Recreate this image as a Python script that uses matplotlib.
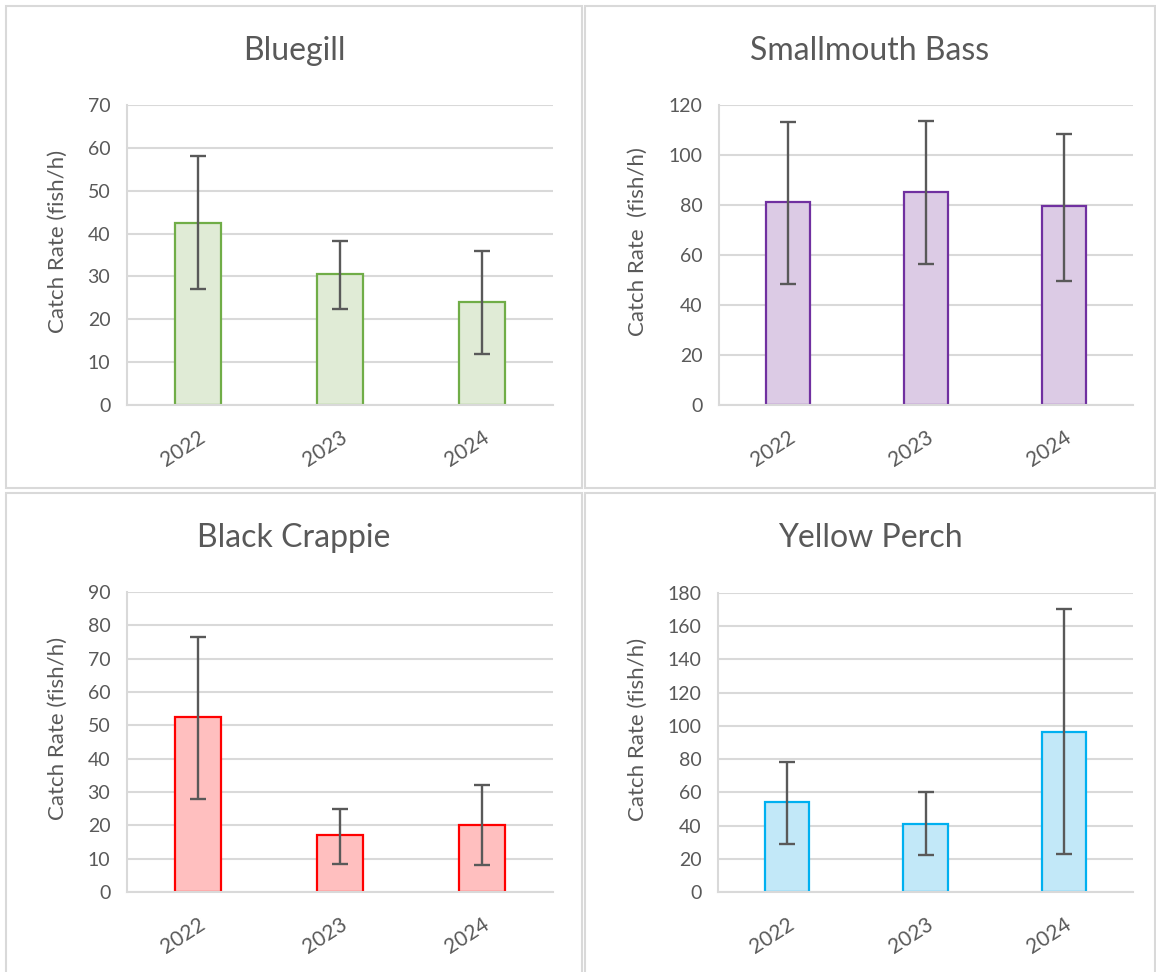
import matplotlib.pyplot as plt
from matplotlib.patches import Rectangle
import numpy as np

plt.rcParams['font.family'] = ['Lato', 'DejaVu Sans']

# Data
years = ['2022', '2023', '2024']

titles = ['Bluegill', 'Smallmouth Bass', 'Black Crappie', 'Yellow Perch']
ylabels = ['Catch Rate (fish/h)', 'Catch Rate  (fish/h)',
           'Catch Rate (fish/h)', 'Catch Rate (fish/h)']

bluegill = [42.5, 30.5, 24.0]
bluegill_lo = [27.0, 22.5, 12.0]
bluegill_hi = [58.0, 38.3, 36.0]

smallmouth = [81.0, 85.0, 79.5]
smallmouth_lo = [48.5, 56.5, 49.5]
smallmouth_hi = [113.0, 113.5, 108.5]

crappie = [52.5, 17.0, 20.0]
crappie_lo = [28.0, 8.5, 8.0]
crappie_hi = [76.5, 25.0, 32.0]

perch = [54.0, 41.0, 96.5]
perch_lo = [29.0, 22.0, 23.0]
perch_hi = [78.5, 60.0, 170.5]

ymax = [70, 120, 90, 180]
ystep = [10, 20, 10, 20]

edge_colors = ['#70ad47', '#7030a0', '#ff0000', '#00b0f0']
fill_colors = ['#e0ebd6', '#dccbe5', '#ffbfbf', '#c2e8f8']

means = [bluegill, smallmouth, crappie, perch]
lows = [bluegill_lo, smallmouth_lo, crappie_lo, perch_lo]
highs = [bluegill_hi, smallmouth_hi, crappie_hi, perch_hi]

W, H = 1156, 972
fig = plt.figure(figsize=(W / 100, H / 100), dpi=100)
fig.patch.set_facecolor('white')

# panel frames in pixels (x0, y0, x1, y1) from top-left
panels = [(6, 6, 582, 488), (585, 6, 1155, 488),
          (6, 493, 582, 975), (585, 493, 1155, 975)]
# plot areas in pixels (left, top, right, bottom)
areas = [(127, 105, 553, 405), (719, 105, 1133, 405),
         (127, 592, 553, 892), (718, 593, 1133, 892)]
ylab_x = [58, 638, 58, 638]

txt = '#595959'
grid = '#d9d9d9'

for i in range(4):
    px0, py0, px1, py1 = panels[i]
    fig.patches.append(Rectangle((px0 / W, 1 - py1 / H), (px1 - px0) / W, (py1 - py0) / H,
                                 transform=fig.transFigure, fill=False,
                                 edgecolor=grid, linewidth=1.5))
    l, t, r, b = areas[i]
    ax = fig.add_axes([l / W, 1 - b / H, (r - l) / W, (b - t) / H])

    x = np.arange(len(years))
    m = np.array(means[i])
    err = [m - np.array(lows[i]), np.array(highs[i]) - m]
    ax.bar(x, m, width=0.32, color=fill_colors[i], edgecolor=edge_colors[i],
           linewidth=1.6, zorder=2)
    ax.errorbar(x, m, yerr=err, fmt='none', ecolor='#595959', elinewidth=1.7,
                capsize=6, capthick=1.7, zorder=3)

    ax.set_xlim(-0.5, 2.5)
    ax.set_ylim(0, ymax[i])
    ax.set_yticks(np.arange(0, ymax[i] + 1, ystep[i]))
    ax.set_xticks(x)
    ax.set_xticklabels(years, rotation=33, ha='right', rotation_mode='anchor')
    ax.grid(axis='y', color=grid, linewidth=1.5, zorder=0)
    ax.set_axisbelow(True)

    for s in ['top', 'right']:
        ax.spines[s].set_visible(False)
    ax.spines['left'].set_color(grid)
    ax.spines['bottom'].set_color(grid)
    ax.spines['left'].set_linewidth(1.5)
    ax.spines['bottom'].set_linewidth(1.5)

    ax.tick_params(axis='y', length=0, pad=12, labelsize=14, labelcolor=txt)
    ax.tick_params(axis='x', length=0, pad=16, labelsize=15, labelcolor=txt)

    ax.set_ylabel(ylabels[i], fontsize=16, color=txt, va='center')
    ax.yaxis.set_label_coords((ylab_x[i] - l) / (r - l), 0.545)

    # title centred on the panel
    fig.text((px0 + px1) / 2 / W, 1 - (py0 + 45) / H, titles[i],
             ha='center', va='center', fontsize=23, color=txt)

fig.savefig('out.png', dpi=100, facecolor='white')
